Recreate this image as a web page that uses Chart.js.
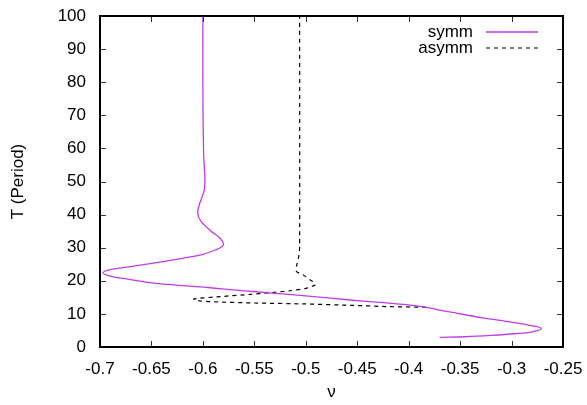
<!DOCTYPE html>
<html>
<head>
<meta charset="utf-8">
<script src="https://cdn.jsdelivr.net/npm/chart.js@4/dist/chart.umd.min.js"></script>
<style>
html,body{margin:0;padding:0;background:#fff;}
#wrap{width:587px;height:405px;position:relative;}
</style>
</head>
<body>
<div id="wrap"><canvas id="c" width="587" height="405"></canvas></div>
<script>
// ---- data ----
const seriesNames = ['symm', 'asymm'];
const symmNu = [-0.370,-0.345,-0.320,-0.297,-0.280,-0.271,-0.280,-0.300,-0.328,-0.360,-0.392,-0.425,-0.457,-0.495,-0.532,-0.565,-0.593,-0.645,-0.677,-0.692,-0.697,-0.692,-0.677,-0.645,-0.620,-0.600,-0.588,-0.582,-0.580,-0.583,-0.592,-0.602,-0.605,-0.603,-0.599,-0.598,-0.599,-0.5995,-0.600,-0.600];
const symmT  = [2.9,3.1,3.5,4.0,4.6,5.6,6.4,7.5,8.8,10.6,12.4,13.4,14.2,15.3,16.3,17.1,17.9,19.2,20.7,21.6,22.4,23.2,24.0,25.5,26.8,28.0,29.3,30.2,31.1,32.8,35.0,38.0,40.5,43.5,47.0,51.0,56.0,62.0,75.0,100.0];
const asymmNu = [-0.383,-0.420,-0.457,-0.500,-0.550,-0.585,-0.603,-0.609,-0.580,-0.554,-0.535,-0.515,-0.500,-0.491,-0.492,-0.496,-0.502,-0.509,-0.509,-0.507,-0.506,-0.506];
const asymmT  = [12.0,12.2,12.6,13.0,13.3,13.6,13.9,14.5,15.3,15.9,16.4,17.0,17.7,18.7,19.5,20.3,21.7,22.8,24.5,27.0,30.0,100.0];
const xTicks = [-0.7,-0.65,-0.6,-0.55,-0.5,-0.45,-0.4,-0.35,-0.3,-0.25];
const yTicks = [0,10,20,30,40,50,60,70,80,90,100];

const toPts = (xs, ys) => xs.map((x, i) => ({x: x, y: ys[i]}));
const FONT = {family: '"Liberation Sans", Arial, sans-serif', size: 17};
const symmColor = '#c03ce6';

const frame = {
  id: 'frame',
  afterDatasetsDraw(chart) {
    const {ctx, chartArea: a, scales} = chart;
    ctx.save();
    ctx.strokeStyle = '#333';
    ctx.lineWidth = 1;
    const L = 6;
    xTicks.forEach(v => {
      const px = Math.round(scales.x.getPixelForValue(v)) + 0.5;
      ctx.beginPath();
      ctx.moveTo(px, a.bottom); ctx.lineTo(px, a.bottom - L);
      ctx.moveTo(px, a.top); ctx.lineTo(px, a.top + L);
      ctx.stroke();
    });
    yTicks.forEach(v => {
      const py = Math.round(scales.y.getPixelForValue(v)) + 0.5;
      ctx.beginPath();
      ctx.moveTo(a.left, py); ctx.lineTo(a.left + L, py);
      ctx.moveTo(a.right, py); ctx.lineTo(a.right - L, py);
      ctx.stroke();
    });
    ctx.strokeStyle = '#000';
    ctx.lineWidth = 2;
    ctx.strokeRect(a.left, a.top, a.right - a.left, a.bottom - a.top);
    // legend (gnuplot style: text then sample)
    ctx.font = '17px "Liberation Sans", Arial, sans-serif';
    ctx.fillStyle = '#000';
    ctx.textAlign = 'right';
    ctx.textBaseline = 'middle';
    const ds = chart.data.datasets;
    [32, 48].forEach((y, i) => {
      ctx.fillText(seriesNames[i], 473, y);
      ctx.beginPath();
      ctx.strokeStyle = ds[i].borderColor;
      ctx.lineWidth = ds[i].borderWidth;
      ctx.setLineDash(ds[i].borderDash || []);
      ctx.moveTo(486, y); ctx.lineTo(538, y);
      ctx.stroke();
      ctx.setLineDash([]);
    });
    ctx.restore();
  }
};

new Chart(document.getElementById('c'), {
  type: 'scatter',
  data: {
    datasets: [
      {label: seriesNames[0], data: toPts(symmNu, symmT), showLine: true, pointRadius: 0,
       borderColor: symmColor, borderWidth: 1.3, tension: 0.35, fill: false},
      {label: seriesNames[1], data: toPts(asymmNu, asymmT), showLine: true, pointRadius: 0,
       borderColor: '#000', borderWidth: 1.2, borderDash: [4, 4], tension: 0.2, fill: false}
    ]
  },
  options: {
    responsive: false,
    animation: false,
    layout: {padding: {left: 0, right: 24, top: 16, bottom: 0}},
    plugins: {legend: {display: false}, tooltip: {enabled: false}},
    scales: {
      x: {
        type: 'linear', min: -0.7, max: -0.25,
        afterBuildTicks: s => { s.ticks = xTicks.map(v => ({value: v})); },
        afterFit: s => { s.height = 58; s.paddingLeft = 0; s.paddingRight = 0; },
        grid: {display: false, drawTicks: false},
        border: {display: false},
        ticks: {color: '#000', font: FONT, padding: 12, maxRotation: 0, autoSkip: false,
                callback: v => String(Math.round(v * 100) / 100)},
        title: {display: true, text: 'ν', color: '#000', font: FONT, padding: {top: 0, bottom: 2}}
      },
      y: {
        type: 'linear', min: 0, max: 100,
        afterBuildTicks: s => { s.ticks = yTicks.map(v => ({value: v})); },
        afterFit: s => { s.width = 100; s.paddingTop = 0; s.paddingBottom = 0; },
        grid: {display: false, drawTicks: false},
        border: {display: false},
        ticks: {color: '#000', font: FONT, padding: 14, autoSkip: false},
        title: {display: true, text: 'T (Period)', color: '#000', font: FONT, padding: {top: 8, bottom: 0}}
      }
    }
  },
  plugins: [frame]
});
</script>
</body>
</html>
